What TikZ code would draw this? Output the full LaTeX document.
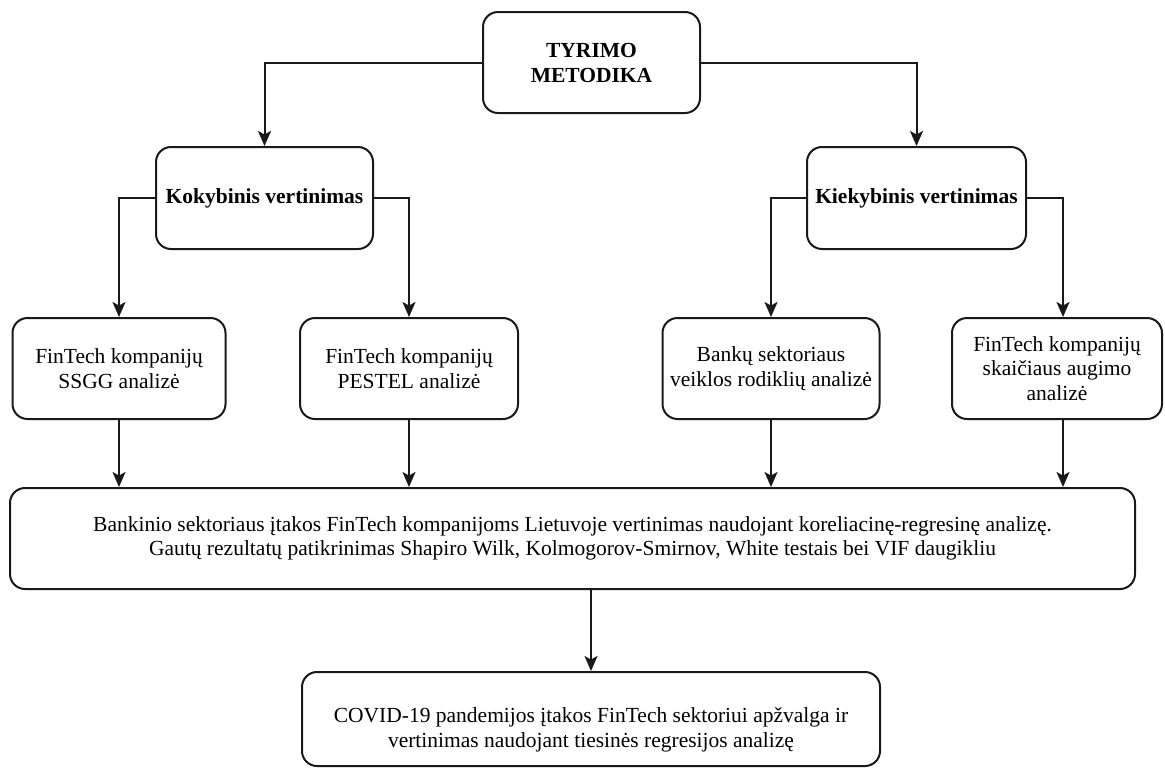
\documentclass[tikz,border=0pt]{standalone}
\usepackage{fontspec}
\setmainfont{Liberation Serif}
\usetikzlibrary{arrows.meta,positioning,calc}

\begin{document}
\begin{tikzpicture}[x=1pt,y=-1pt,
    box/.style={draw=black!90, line width=2pt, rounded corners=15pt, fill=white,
      align=center, inner sep=0pt, font=\fontsize{21.5}{24.5}\selectfont},
    headbox/.style={box, font=\fontsize{21.5}{25}\selectfont\bfseries},
    label text/.style={align=center, inner sep=0pt, font=\fontsize{21.5}{24.5}\selectfont},
    flow/.style={draw=black!90, line width=2pt,
      -{Stealth[length=15pt,width=13pt,inset=3.5pt]}},
  ]
  \useasboundingbox (0,0) rectangle (1165,769);

  % top level
  \node[headbox, minimum width=217pt, minimum height=101pt] (top) at (591.5,62.5)
    {TYRIMO\\METODIKA};

  % two kinds of evaluation
  \node[headbox, minimum width=217pt, minimum height=102pt] (kok) at (264.5,198)
    {Kokybinis vertinimas};
  \node[headbox, minimum width=219pt, minimum height=102pt] (kiek) at (916.5,198)
    {Kiekybinis vertinimas};

  % individual analyses
  \node[box, minimum width=213pt, minimum height=101pt] (ssgg) at (119,368.5)
    {FinTech kompanijų\\SSGG analizė};
  \node[box, minimum width=218pt, minimum height=101pt] (pestel) at (409,368.5)
    {FinTech kompanijų\\PESTEL analizė};
  \node[box, minimum width=217pt, minimum height=101pt] (bank) at (771,368.5)
    {Bankų sektoriaus\\veiklos rodiklių analizė};
  \node[box, minimum width=210pt, minimum height=101pt] (augimo) at (1057,368.5)
    {FinTech kompanijų\\skaičiaus augimo\\analizė};

  % combined evaluation
  \node[box, minimum width=1125pt, minimum height=101pt] (bendras) at (572.5,538.5)
    {Bankinio sektoriaus įtakos FinTech kompanijoms Lietuvoje vertinimas naudojant koreliacinę-regresinę analizę.\\
     Gautų rezultatų patikrinimas Shapiro Wilk, Kolmogorov-Smirnov, White testais bei VIF daugikliu};

  % COVID-19 review: box and its text, set a little below the box centre
  \node[box, minimum width=578pt, minimum height=94pt] (covid) at (591,719) {};
  \node[label text] (covidtxt) at (591,730)
    {COVID-19 pandemijos įtakos FinTech sektoriui apžvalga ir\\
     vertinimas naudojant tiesinės regresijos analizę};

  % connectors
  \draw[flow] (top.west) -| (kok.north);
  \draw[flow] (top.east) -| (kiek.north);
  \draw[flow] (kok.west) -| (ssgg.north);
  \draw[flow] (kok.east) -| (pestel.north);
  \draw[flow] (kiek.west) -| (bank.north);
  \draw[flow] (kiek.east) -| ([xshift=6pt]augimo.north);

  \draw[flow] (ssgg.south) -- (ssgg.south |- bendras.north);
  \draw[flow] (pestel.south) -- (pestel.south |- bendras.north);
  \draw[flow] (bank.south) -- (bank.south |- bendras.north);
  \draw[flow] ([xshift=6pt]augimo.south) -- ([xshift=6pt]augimo.south |- bendras.north);

  \draw[flow] (covid.north |- bendras.south) -- (covid.north);
\end{tikzpicture}
\end{document}
